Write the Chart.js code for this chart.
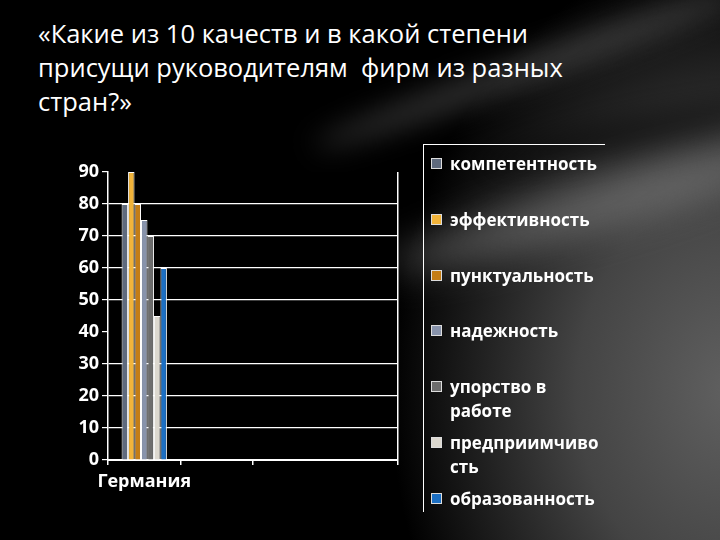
<!DOCTYPE html>
<html>
<head>
<meta charset="utf-8">
<script src="https://cdn.jsdelivr.net/npm/chart.js@4"></script>
<style>
  html, body { margin: 0; padding: 0; }
  body {
    width: 720px; height: 540px; overflow: hidden; position: relative;
    background: #000;
    font-family: "Open Sans", sans-serif;
  }
  .glow { position: absolute; pointer-events: none; }
  #g1 { left: 0; top: 0; width: 720px; height: 540px;
        background: radial-gradient(ellipse 340px 440px at 730px 390px, #606060 0%, #444 45%, rgba(0,0,0,0) 100%); }
  #g2 { left: 380px; top: 185px; width: 420px; height: 46px; transform: rotate(-16deg);
        background: rgba(150,150,150,0.45); filter: blur(18px); border-radius: 50%; }
  #g3 { left: 300px; top: 55px; width: 460px; height: 26px; transform: rotate(-20deg);
        background: rgba(130,130,130,0.4); filter: blur(14px); border-radius: 50%; }
  #g4 { left: 470px; top: 120px; width: 300px; height: 30px; transform: rotate(-12deg);
        background: rgba(0,0,0,0.5); filter: blur(14px); border-radius: 50%; }
  #title {
    position: absolute; left: 38px; top: 16px; width: 540px;
    color: #fff; font-size: 25.5px; line-height: 34px; font-weight: 400;
  }
  #chart { position: absolute; left: 0; top: 0; }
  #legend {
    position: absolute; left: 423px; top: 144px; width: 181px; height: 367px;
    border-left: 1px solid #fff; border-top: 1px solid #fff;
  }
  .item { position: absolute; left: 7px; width: 170px; color: #fff;
          font-size: 17px; font-weight: 700; line-height: 24px; }
  .item .box { position: absolute; left: 0; top: 6px; width: 11px; height: 11px;
               border: 1px solid #ddd; box-sizing: border-box; }
  .item .txt { position: absolute; left: 19px; top: 0; width: 153px; overflow-wrap: anywhere; }
</style>
</head>
<body>
<div class="glow" id="g1"></div>
<div class="glow" id="g2"></div>
<div class="glow" id="g3"></div>
<div class="glow" id="g4"></div>
<div id="title">«Какие из 10 качеств и в какой степени присущи руководителям&nbsp; фирм из разных стран?»</div>
<canvas id="chart" width="720" height="540"></canvas>
<div id="legend"></div>
<script>
// categories (only the first one is filled in the source)
const countries = ['Германия', '', '', ''];

// one series per quality
const qualities = ['компетентность', 'эффективность', 'пунктуальность', 'надежность',
                   'упорство в работе', 'предприимчивость', 'образованность'];
const germany = [80, 90, 80, 75, 70, 45, 60];
const colors = ['#5f6a7d', '#f2b43a', '#c47d15', '#8893ab', '#6d6d6d', '#dcd8cf', '#1c6fc3'];

const yTicks = [0, 10, 20, 30, 40, 50, 60, 70, 80, 90];

const datasets = qualities.map((q, i) => ({
    label: q,
    data: [germany[i], null, null, null],
    backgroundColor: colors[i],
    borderColor: '#ffffff',
    borderWidth: 1,
    categoryPercentage: 0.625,
    barPercentage: 1.0
}));

// black plot area
const plotBg = {
    id: 'plotBg',
    beforeDraw(chart) {
        const a = chart.chartArea;
        chart.ctx.save();
        chart.ctx.fillStyle = '#000';
        chart.ctx.fillRect(a.left, a.top, a.right - a.left, a.bottom - a.top);
        chart.ctx.restore();
    }
};

const ctx = document.getElementById('chart').getContext('2d');
const chart = new Chart(ctx, {
    type: 'bar',
    data: { labels: countries, datasets: datasets },
    plugins: [plotBg],
    options: {
        responsive: false,
        animation: false,
        layout: { padding: { left: 68, right: 322, top: 172, bottom: 40 } },
        plugins: { legend: { display: false }, tooltip: { enabled: false } },
        scales: {
            x: {
                afterFit: s => { s.height = 40; },
                grid: {
                    color: c => (c.type === 'tick' ? 'rgba(0,0,0,0)' : '#ffffff'),
                    tickColor: c => (c.index === 3 ? 'rgba(0,0,0,0)' : '#ffffff'),
                    tickLength: 5,
                    lineWidth: 1.5
                },
                border: { display: true, color: '#ffffff', width: 2 },
                ticks: { color: '#ffffff', font: { family: 'Open Sans', size: 18, weight: 'bold' },
                         padding: 6, maxRotation: 0, minRotation: 0, autoSkip: false }
            },
            y: {
                min: 0, max: 90,
                afterFit: s => { s.width = 40; },
                afterBuildTicks: s => { s.ticks = yTicks.map(v => ({ value: v })); },
                grid: {
                    color: c => ((c.tick.value === 90 || c.tick.value === 40) ? 'rgba(0,0,0,0)' : '#ffffff'),
                    tickColor: '#ffffff',
                    tickLength: 6,
                    lineWidth: 1.2
                },
                border: { display: true, color: '#ffffff', width: 1.5 },
                ticks: { color: '#ffffff', font: { family: 'Open Sans', size: 18, weight: 'bold' }, padding: 3 }
            }
        }
    }
});

// legend drawn as html next to the chart
const legend = document.getElementById('legend');
qualities.forEach((q, i) => {
    const item = document.createElement('div');
    item.className = 'item';
    item.style.top = (7 + i * 55.8) + 'px';
    item.innerHTML = '<span class="box" style="background:' + colors[i] + '"></span><span class="txt">' + q + '</span>';
    legend.appendChild(item);
});
</script>
</body>
</html>
